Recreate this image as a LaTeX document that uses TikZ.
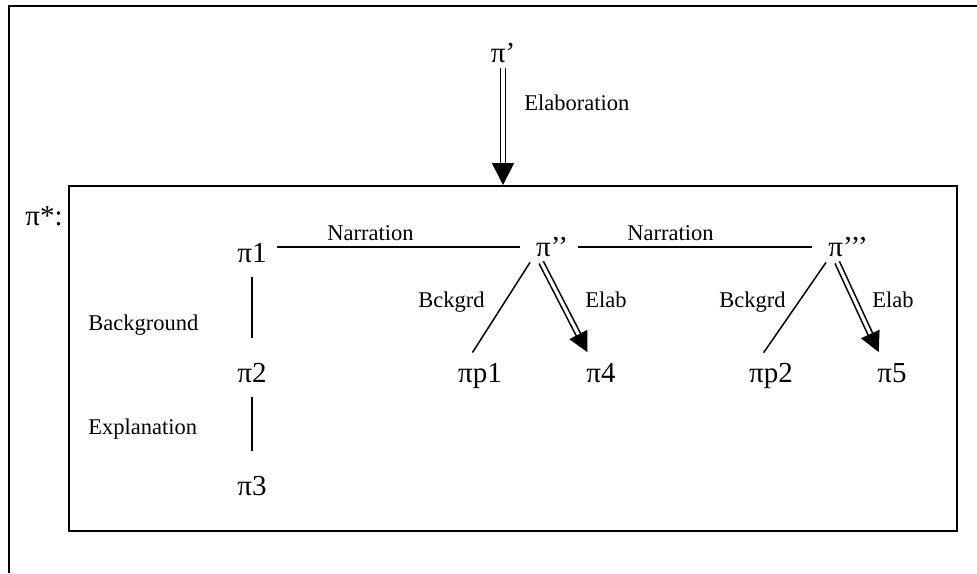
\documentclass[tikz,border=0pt]{standalone}
\usepackage{fontspec}
\setmainfont{Liberation Serif}
\usetikzlibrary{positioning,arrows.meta}

\begin{document}
\begin{tikzpicture}[
	x=0.5pt, y=-0.5pt,
	pinode/.style={font=\fontsize{14.5}{14.5}\selectfont,inner xsep=5pt,inner ysep=3pt,text height=9pt,text depth=0pt,anchor=base},
	relname/.style={font=\fontsize{11.25}{12}\selectfont,inner sep=0pt,anchor=base west},
	rel/.style={line width=0.75pt,shorten >=3pt},
	vline/.style={line width=0.75pt,shorten <=4.5pt,shorten >=10pt},
	elab/.style={double,double distance=1.6pt,line width=0.8pt,-{Triangle[length=10pt,width=10pt]},shorten >=3pt},
	frame/.style={line width=1pt}
	]
	\useasboundingbox (0,0) rectangle (977,573);
	\draw[frame] (9,573) -- (9,6) -- (977,6);
	\node[draw,frame,inner sep=0pt,minimum width=444pt,minimum height=172.5pt] (sdrs) at (513,358.5) {};
	\node[pinode,anchor=base west,inner xsep=0pt] (pistar) at (25,225) {π*:};
	\node[pinode] (pip) at (503,62) {π’};
	\node[pinode] (pi1) at (252,262) {π1};
	\node[pinode] (pi2) at (252,382) {π2};
	\node[pinode] (pi3) at (252,495) {π3};
	\node[pinode] (pidd) at (552,256) {π’’};
	\node[pinode] (pittt) at (848,256) {π’’’};
	\node[pinode] (pp1) at (480,382) {πp1};
	\node[pinode] (p4) at (601,382) {π4};
	\node[pinode] (pp2) at (771,382) {πp2};
	\node[pinode] (p5) at (892,382) {π5};
	% relation names
	\node[relname] (elaboration) at (524,110) {Elaboration};
	\node[relname] (narration1) at (327,240) {Narration};
	\node[relname] (narration2) at (627,240) {Narration};
	\node[relname] (background) at (88,330) {Background};
	\node[relname] (explanation) at (88,434) {Explanation};
	\node[relname] (bckgrd1) at (418,307) {Bckgrd};
	\node[relname] (bckgrd2) at (719,307) {Bckgrd};
	\node[relname] (elab1) at (585,307) {Elab};
	\node[relname] (elab2) at (872,307) {Elab};
	% connectors
	\draw[elab,-{Triangle[length=11pt,width=11pt]},shorten >=0pt] (pip.south) -- (pip.south |- sdrs.north);
	\draw[rel] ([yshift=3pt]pi1.east) -- (pidd.west);
	\draw[rel] (pidd.east) -- (pittt.west);
	\draw[vline] (pi1.south) -- (pi2.north);
	\draw[vline] (pi2.south) -- (pi3.north);
	\draw[rel] (pidd.-145) -- (pp1.125);
	\draw[rel] (pittt.-145) -- (pp2.125);
	\draw[elab] (pidd.-125) -- (p4.125);
	\draw[elab] (pittt.-125) -- (p5.125);
\end{tikzpicture}
\end{document}
